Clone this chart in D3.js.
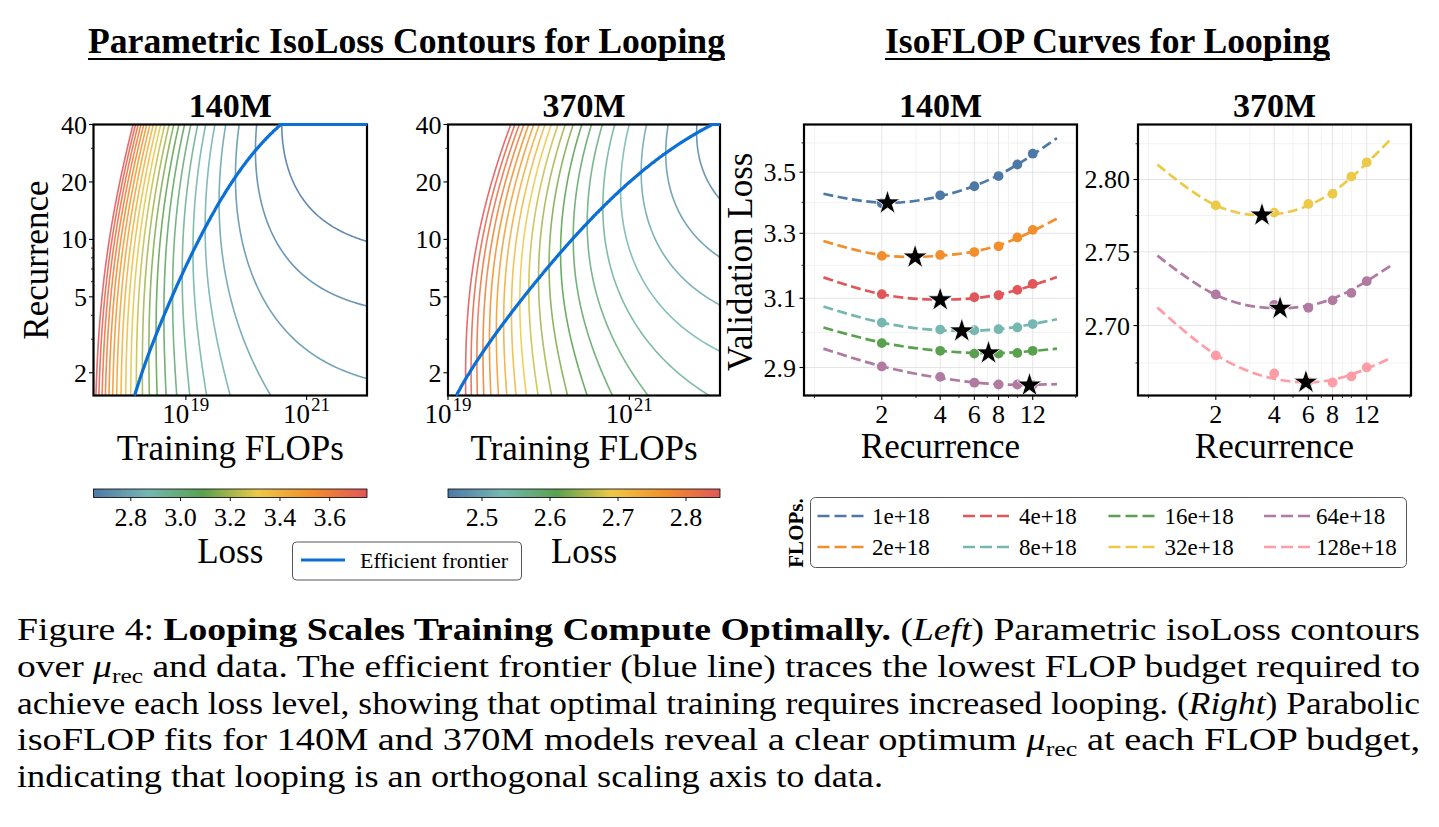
<!DOCTYPE html>
<html lang="en">
<head>
<meta charset="UTF-8">
<title>Looping Scales Training Compute Optimally</title>
<script src="https://cdn.jsdelivr.net/npm/d3@7"></script>
<style>
  body { margin: 0; background: #fff; }
  svg { display: block; }
  text { font-family: "Liberation Serif", "Times New Roman", Times, serif; fill: #000; }
</style>
</head>
<body>
<svg id="fig" width="1439" height="827"></svg>
<script>
// ---------- data ----------
const flopBudgets = ["1e+18", "2e+18", "4e+18", "8e+18", "16e+18", "32e+18", "64e+18", "128e+18"];
const flopColors = ["#4e79a7", "#f28e2b", "#e15759", "#76b7b2", "#59a14f", "#edc948", "#b07aa1", "#ff9da7"];
const recurrenceRuns = [2, 4, 6, 8, 10, 12];
const fitKnots = [1, 2, 4, 8, 16];

// 140M isoFLOP runs (index into flopBudgets), losses at recurrenceRuns, fitted parabola, optimum
const iso140Budget = [0, 1, 2, 3, 4, 6];
const iso140Loss = [
  [3.397, 3.423, 3.453, 3.487, 3.526, 3.563],
  [3.229, 3.232, 3.241, 3.259, 3.287, 3.311],
  [3.112, 3.097, 3.103, 3.109, 3.125, 3.143],
  [3.028, 3.008, 3.006, 3.009, 3.014, 3.024],
  [2.969, 2.947, 2.939, 2.939, 2.941, 2.947],
  [2.903, 2.874, 2.858, 2.853, 2.853, 2.852]
];
const iso140Fit = [
  [3.428, 3.399, 3.420, 3.490, 3.617],
  [3.2755, 3.2315, 3.2295, 3.262, 3.347],
  [3.163, 3.112, 3.096, 3.111, 3.164],
  [3.0755, 3.028, 3.006, 3.009, 3.038],
  [3.0138, 2.9705, 2.947, 2.9405, 2.9533],
  [2.9533, 2.9034, 2.871, 2.8535, 2.854]
];
const iso140Best = [[2.14, 3.398], [2.97, 3.2253], [4.0, 3.0953], [5.17, 3.004], [7.1, 2.9409], [11.55, 2.8512]];

// 370M isoFLOP runs
const iso370Budget = [5, 6, 7];
const iso370Loss = [
  [2.782, 2.777, 2.783, 2.790, 2.802, 2.812],
  [2.721, 2.714, 2.712, 2.717, 2.722, 2.730],
  [2.680, 2.668, 2.6625, 2.662, 2.666, 2.672]
];
const iso370Fit = [
  [2.8104, 2.7821, 2.7758, 2.7912, 2.8284],
  [2.7474, 2.7207, 2.7117, 2.7181, 2.7406],
  [2.7121, 2.6805, 2.6645, 2.6638, 2.6783]
];
const iso370Best = [[3.46, 2.7753], [4.29, 2.7116], [5.83, 2.6622]];

// isoLoss contour levels and colour bar ticks
const lossLevels140 = [2.65, 2.70, 2.75, 2.80, 2.85, 2.90, 2.95, 3.00, 3.05, 3.10, 3.15, 3.20,
                       3.25, 3.30, 3.35, 3.40, 3.45, 3.50, 3.55, 3.60, 3.65, 3.70, 3.75];
const lossLevels370 = [2.45, 2.47, 2.49, 2.51, 2.53, 2.55, 2.57, 2.59, 2.61, 2.63, 2.65,
                       2.67, 2.69, 2.71, 2.73, 2.75, 2.77, 2.79, 2.81, 2.83, 2.85];
const lossTicks140 = [2.8, 3.0, 3.2, 3.4, 3.6];
const lossTicks370 = [2.5, 2.6, 2.7, 2.8];
const cmapStops = ["#4e79a7", "#76b7b2", "#59a14f", "#edc948", "#f28e2b", "#e15759"];

// parametric fit  L = E + h(r) + Q * (F / (c + r))^-beta   (F in 1e18 FLOPs), [140M, 370M]
const fitE = [2.791, 2.55];
const fitQ = [0.2427, 0.4449];
const fitBeta = [0.45, 0.45];
const fitShared = [6, 6];
const recSlope = [0.156, 0.092];
const recCubic = [0.0397, 0.02177];
const recQuartic = [0.00885, 0];
const recPivot = [0.9, 0.7];

// axis ticks
const recTicks = [2, 5, 10, 20, 40];
const recMinor = [3, 4, 6, 7, 8, 9, 30];
const flopTickExp = [19, 21];
const isoXTicks = [2, 4, 6, 8, 12];
const isoXMinor = [0.9, 3, 5, 7, 9, 10, 20];
const iso140YTicks = [2.9, 3.1, 3.3, 3.5];
const iso140YMinor = [3.0, 3.2, 3.4, 3.6];
const iso370YTicks = [2.70, 2.75, 2.80];
const iso370YMinor = [2.675, 2.725, 2.775, 2.825];

// ---------- drawing ----------
const svg = d3.select("#fig");
const defs = svg.append("defs");
const plotTop = 124.5, plotBottom = 395.5;
const recDomain = [1.52, 40];
const isoXDomain = [0.794, 20.3];
const frontierBlue = "#0b6fd6";
const tickFont = 26;

function paramLoss(k, logF, logR) {
  const f = Math.pow(10, logF - 18), r = Math.pow(10, logR), d = logR - recPivot[k];
  const h = -recSlope[k] * logR + recCubic[k] * d * d * d + recQuartic[k] * d * d * d * d;
  return fitE[k] + h + fitQ[k] * Math.pow(f / (fitShared[k] + r), -fitBeta[k]);
}

function frame(g, x0, x1) {
  g.append("rect").attr("x", x0).attr("y", plotTop).attr("width", x1 - x0).attr("height", plotBottom - plotTop)
    .attr("fill", "none").attr("stroke", "#000").attr("stroke-width", 2.2);
}

function tick(g, x1, y1, x2, y2, w) {
  g.append("line").attr("x1", x1).attr("y1", y1).attr("x2", x2).attr("y2", y2)
    .attr("stroke", "#000").attr("stroke-width", w);
}

function label(g, x, y, str, size, anchor, weight) {
  return g.append("text").attr("x", x).attr("y", y).attr("font-size", size)
    .attr("text-anchor", anchor || "middle").attr("font-weight", weight || "normal").text(str);
}

// headers
[["Parametric IsoLoss Contours for Looping", 88, 637], ["IsoFLOP Curves for Looping", 885, 445]].forEach(([s, x0, w]) => {
  svg.append("text").attr("x", x0).attr("y", 53).attr("font-size", 35.5).attr("font-weight", "bold")
    .attr("textLength", w).attr("lengthAdjust", "spacingAndGlyphs").text(s);
  svg.append("rect").attr("x", x0).attr("y", 58).attr("width", w).attr("height", 2).attr("fill", "#000");
});

// ---------- parametric isoLoss contour panels ----------
const contourPanels = [
  { k: 0, left: 93.5, right: 367, logF: [17.47, 22], levels: lossLevels140, ticks: lossTicks140, title: "140M", ylabel: true },
  { k: 1, left: 448, right: 720, logF: [19, 22], levels: lossLevels370, ticks: lossTicks370, title: "370M", ylabel: false }
];

contourPanels.forEach(p => {
  const x = d3.scaleLog().domain([Math.pow(10, p.logF[0]), Math.pow(10, p.logF[1])]).range([p.left, p.right]);
  const y = d3.scaleLog().domain(recDomain).range([plotBottom, plotTop]);
  const lo = p.levels[0], hi = p.levels[p.levels.length - 1];
  const color = d3.scaleLinear()
    .domain(cmapStops.map((c, i) => lo + (hi - lo) * i / (cmapStops.length - 1)))
    .range(cmapStops);

  const clipId = "clip" + p.k;
  defs.append("clipPath").attr("id", clipId).append("rect")
    .attr("x", p.left).attr("y", plotTop).attr("width", p.right - p.left).attr("height", plotBottom - plotTop);
  const g = svg.append("g");
  const inner = g.append("g").attr("clip-path", `url(#${clipId})`);

  // sample the fitted surface on a (log F, log r) grid and trace the iso-loss lines
  const n = 340, m = 300;
  const t0 = p.logF[0] - 0.12, t1 = p.logF[1] + 0.12;
  const v0 = Math.log10(recDomain[0]) - 0.06, v1 = Math.log10(recDomain[1]) + 0.06;
  const dt = (t1 - t0) / (n - 1), dv = (v1 - v0) / (m - 1);
  const values = new Float64Array(n * m);
  for (let j = 0; j < m; j++) {
    for (let i = 0; i < n; i++) values[j * n + i] = paramLoss(p.k, t0 + i * dt, v0 + j * dv);
  }
  const project = ([cx, cy]) => [x(Math.pow(10, t0 + (cx - 0.5) * dt)), y(Math.pow(10, v0 + (cy - 0.5) * dv))];
  const ringLine = d3.line();
  d3.contours().size([n, m]).thresholds(p.levels)(values).forEach(c => {
    let dstr = "";
    c.coordinates.forEach(poly => poly.forEach(ring => { dstr += ringLine(ring.map(project)); }));
    inner.append("path").attr("d", dstr).attr("fill", "none")
      .attr("stroke", color(c.value)).attr("stroke-opacity", 0.88).attr("stroke-width", 1.6);
  });

  // ticks
  recTicks.forEach(v => {
    tick(g, p.left, y(v), p.left - 4.5, y(v), 1.1);
    label(g, p.left - 6.5, y(v) + 9, String(v), tickFont, "end");
  });
  recMinor.forEach(v => tick(g, p.left, y(v), p.left - 2.5, y(v), 0.8));
  flopTickExp.forEach(e => {
    const tx = x(Math.pow(10, e));
    tick(g, tx, plotBottom, tx, plotBottom + 4.5, 1.1);
    const t = g.append("text").attr("x", tx).attr("y", 422.5).attr("font-size", 27).attr("text-anchor", "middle");
    t.append("tspan").text("10");
    t.append("tspan").attr("font-size", 19).attr("dx", 1).attr("dy", -12).text(String(e));
  });

  frame(g, p.left, p.right);

  // efficient frontier: loss-minimising recurrence at each FLOP budget (capped at 40)
  const vLo = Math.log10(recDomain[0]), vHi = Math.log10(recDomain[1]);
  const pts = [];
  let pending = null;
  const steps = 600, rsteps = 700;
  for (let i = 0; i <= steps; i++) {
    const lf = p.logF[0] + (p.logF[1] - p.logF[0]) * i / steps;
    let best = 0, bestL = Infinity;
    for (let j = 0; j <= rsteps; j++) {
      const L = paramLoss(p.k, lf, vLo + (vHi - vLo) * j / rsteps);
      if (L < bestL) { bestL = L; best = j; }
    }
    const pt = [Math.pow(10, lf), Math.pow(10, vLo + (vHi - vLo) * best / rsteps)];
    if (best === 0) { pending = pt; continue; }
    if (pending) { pts.push(pending); pending = null; }
    pts.push(pt);
  }
  g.append("path").attr("d", d3.line().x(d => x(d[0])).y(d => y(d[1]))(pts))
    .attr("fill", "none").attr("stroke", frontierBlue).attr("stroke-width", 3.2).attr("stroke-linejoin", "round");

  const cx = (p.left + p.right) / 2;
  label(g, cx, 117, p.title, 34, "middle", "bold");
  label(g, cx, 459.5, "Training FLOPs", 35);
  if (p.ylabel) {
    g.append("text").attr("transform", "translate(48,260) rotate(-90)").attr("font-size", 35)
      .attr("text-anchor", "middle").text("Recurrence");
  }

  // colour bar
  const gradId = "grad" + p.k;
  const grad = defs.append("linearGradient").attr("id", gradId);
  cmapStops.forEach((c, i) => grad.append("stop").attr("offset", i / (cmapStops.length - 1)).attr("stop-color", c));
  g.append("rect").attr("x", p.left).attr("y", 489).attr("width", p.right - p.left).attr("height", 8.5)
    .attr("fill", `url(#${gradId})`).attr("stroke", "#000").attr("stroke-width", 0.8);
  const cb = d3.scaleLinear().domain([lo, hi]).range([p.left, p.right]);
  p.ticks.forEach(v => {
    tick(g, cb(v), 497.5, cb(v), 501, 0.9);
    label(g, cb(v), 525.5, d3.format(".1f")(v), tickFont);
  });
  label(g, cx, 563, "Loss", 35);
});

// efficient frontier legend
{
  const g = svg.append("g");
  g.append("rect").attr("x", 292.5).attr("y", 542).attr("width", 229).attr("height", 38).attr("rx", 4)
    .attr("fill", "#fff").attr("stroke", "#555").attr("stroke-width", 1);
  g.append("line").attr("x1", 301).attr("x2", 345).attr("y1", 560).attr("y2", 560)
    .attr("stroke", frontierBlue).attr("stroke-width", 3.2);
  label(g, 360, 567.5, "Efficient frontier", 22, "start");
}

// ---------- isoFLOP panels ----------
const isoPanels = [
  { left: 804, right: 1077, yDomain: [2.8229, 3.6645], yTicks: iso140YTicks, yMinor: iso140YMinor, fmt: d3.format(".1f"),
    budgets: iso140Budget, loss: iso140Loss, fit: iso140Fit, best: iso140Best, title: "140M", ylabel: true },
  { left: 1138, right: 1411, yDomain: [2.6534, 2.8386], yTicks: iso370YTicks, yMinor: iso370YMinor, fmt: d3.format(".2f"),
    budgets: iso370Budget, loss: iso370Loss, fit: iso370Fit, best: iso370Best, title: "370M", ylabel: false }
];

isoPanels.forEach(p => {
  const x = d3.scaleLog().domain(isoXDomain).range([p.left, p.right]);
  const y = d3.scaleLog().domain(p.yDomain).range([plotBottom, plotTop]);
  const g = svg.append("g");

  // grid
  const hline = (v, c) => g.append("line").attr("x1", p.left).attr("x2", p.right).attr("y1", y(v)).attr("y2", y(v))
    .attr("stroke", c).attr("stroke-width", 1);
  const vline = (v, c) => g.append("line").attr("x1", x(v)).attr("x2", x(v)).attr("y1", plotTop).attr("y2", plotBottom)
    .attr("stroke", c).attr("stroke-width", 1);
  p.yMinor.forEach(v => hline(v, "#f2f2f2"));
  isoXMinor.forEach(v => vline(v, "#f2f2f2"));
  p.yTicks.forEach(v => hline(v, "#e4e4e4"));
  isoXTicks.forEach(v => vline(v, "#e4e4e4"));

  const curve = d3.line().x(d => x(d[0])).y(d => y(d[1])).curve(d3.curveNatural);
  p.budgets.forEach((b, s) => {
    const col = flopColors[b];
    g.append("path").attr("d", curve(fitKnots.map((r, i) => [r, p.fit[s][i]])))
      .attr("fill", "none").attr("stroke", col).attr("stroke-width", 2.7).attr("stroke-dasharray", "10,4.5");
    g.selectAll(null).data(recurrenceRuns.map((r, i) => [r, p.loss[s][i]])).join("circle")
      .attr("cx", d => x(d[0])).attr("cy", d => y(d[1])).attr("r", 4.9).attr("fill", col);
  });
  g.selectAll(null).data(p.best).join("path")
    .attr("transform", d => `translate(${x(d[0])},${y(d[1])})`)
    .attr("d", d3.symbol(d3.symbolStar, 190))
    .attr("fill", "#000").attr("stroke", "#fff").attr("stroke-width", 0.8);

  // ticks
  p.yTicks.forEach(v => {
    tick(g, p.left, y(v), p.left - 4.5, y(v), 1.1);
    label(g, p.left - 8, y(v) + 9, p.fmt(v), tickFont, "end");
  });
  p.yMinor.forEach(v => tick(g, p.left, y(v), p.left - 2.5, y(v), 0.8));
  isoXTicks.forEach(v => {
    tick(g, x(v), plotBottom, x(v), plotBottom + 4.5, 1.1);
    label(g, x(v), 423, String(v), tickFont);
  });
  isoXMinor.forEach(v => tick(g, x(v), plotBottom, x(v), plotBottom + 2.5, 0.8));

  frame(g, p.left, p.right);

  const cx = (p.left + p.right) / 2;
  label(g, cx, 117, p.title, 34, "middle", "bold");
  label(g, cx, 458, "Recurrence", 35);
  if (p.ylabel) {
    g.append("text").attr("transform", "translate(752,262) rotate(-90)").attr("font-size", 35)
      .attr("text-anchor", "middle").text("Validation Loss");
  }
});

// FLOPs legend
{
  const g = svg.append("g");
  g.append("rect").attr("x", 810.5).attr("y", 497.5).attr("width", 596).attr("height", 70).attr("rx", 5)
    .attr("fill", "#fff").attr("stroke", "#555").attr("stroke-width", 1);
  g.append("text").attr("transform", "translate(803,533) rotate(-90)").attr("font-size", 21)
    .attr("font-weight", "bold").attr("text-anchor", "middle").text("FLOPs.");
  const colX = [817.5, 963, 1108.5, 1264];
  const textX = [872, 1019, 1164.5, 1316];
  const rowY = [516, 547];
  flopBudgets.forEach((name, i) => {
    const c = Math.floor(i / 2), r = i % 2;
    g.append("line").attr("x1", colX[c]).attr("x2", colX[c] + 46).attr("y1", rowY[r]).attr("y2", rowY[r])
      .attr("stroke", flopColors[i]).attr("stroke-width", 2.7).attr("stroke-dasharray", "12,5");
    label(g, textX[c], rowY[r] + 8, name, 23, "start");
  });
}

// ---------- caption ----------
const captionLines = [
  [["Figure 4: ", ""], ["Looping Scales Training Compute Optimally.", "b"], [" (", ""], ["Left", "i"], [") Parametric isoLoss contours", ""]],
  [["over ", ""], ["\u03bc", "i"], ["rec", "sub"], [" and data. The efficient frontier (blue line) traces the lowest FLOP budget required to", ""]],
  [["achieve each loss level, showing that optimal training requires increased looping. (", ""], ["Right", "i"], [") Parabolic", ""]],
  [["isoFLOP fits for 140M and 370M models reveal a clear optimum ", ""], ["\u03bc", "i"], ["rec", "sub"], [" at each FLOP budget,", ""]],
  [["indicating that looping is an orthogonal scaling axis to data.", ""]]
];
const captionWidths = [1403, 1403, 1403, 1403, 866];
captionLines.forEach((segs, li) => {
  const t = svg.append("text").attr("x", 17).attr("y", 640 + li * 36.8).attr("font-size", 31)
    .attr("textLength", captionWidths[li]).attr("lengthAdjust", "spacingAndGlyphs")
    .style("white-space", "pre");
  let shifted = false;
  segs.forEach(([s, kind]) => {
    const ts = t.append("tspan").text(s);
    if (kind === "b") ts.attr("font-weight", "bold");
    if (kind === "i") ts.attr("font-style", "italic");
    if (kind === "sub") { ts.attr("font-size", 21).attr("dy", 6); shifted = true; }
    else if (shifted) { ts.attr("dy", -6); shifted = false; }
  });
});
</script>
</body>
</html>
